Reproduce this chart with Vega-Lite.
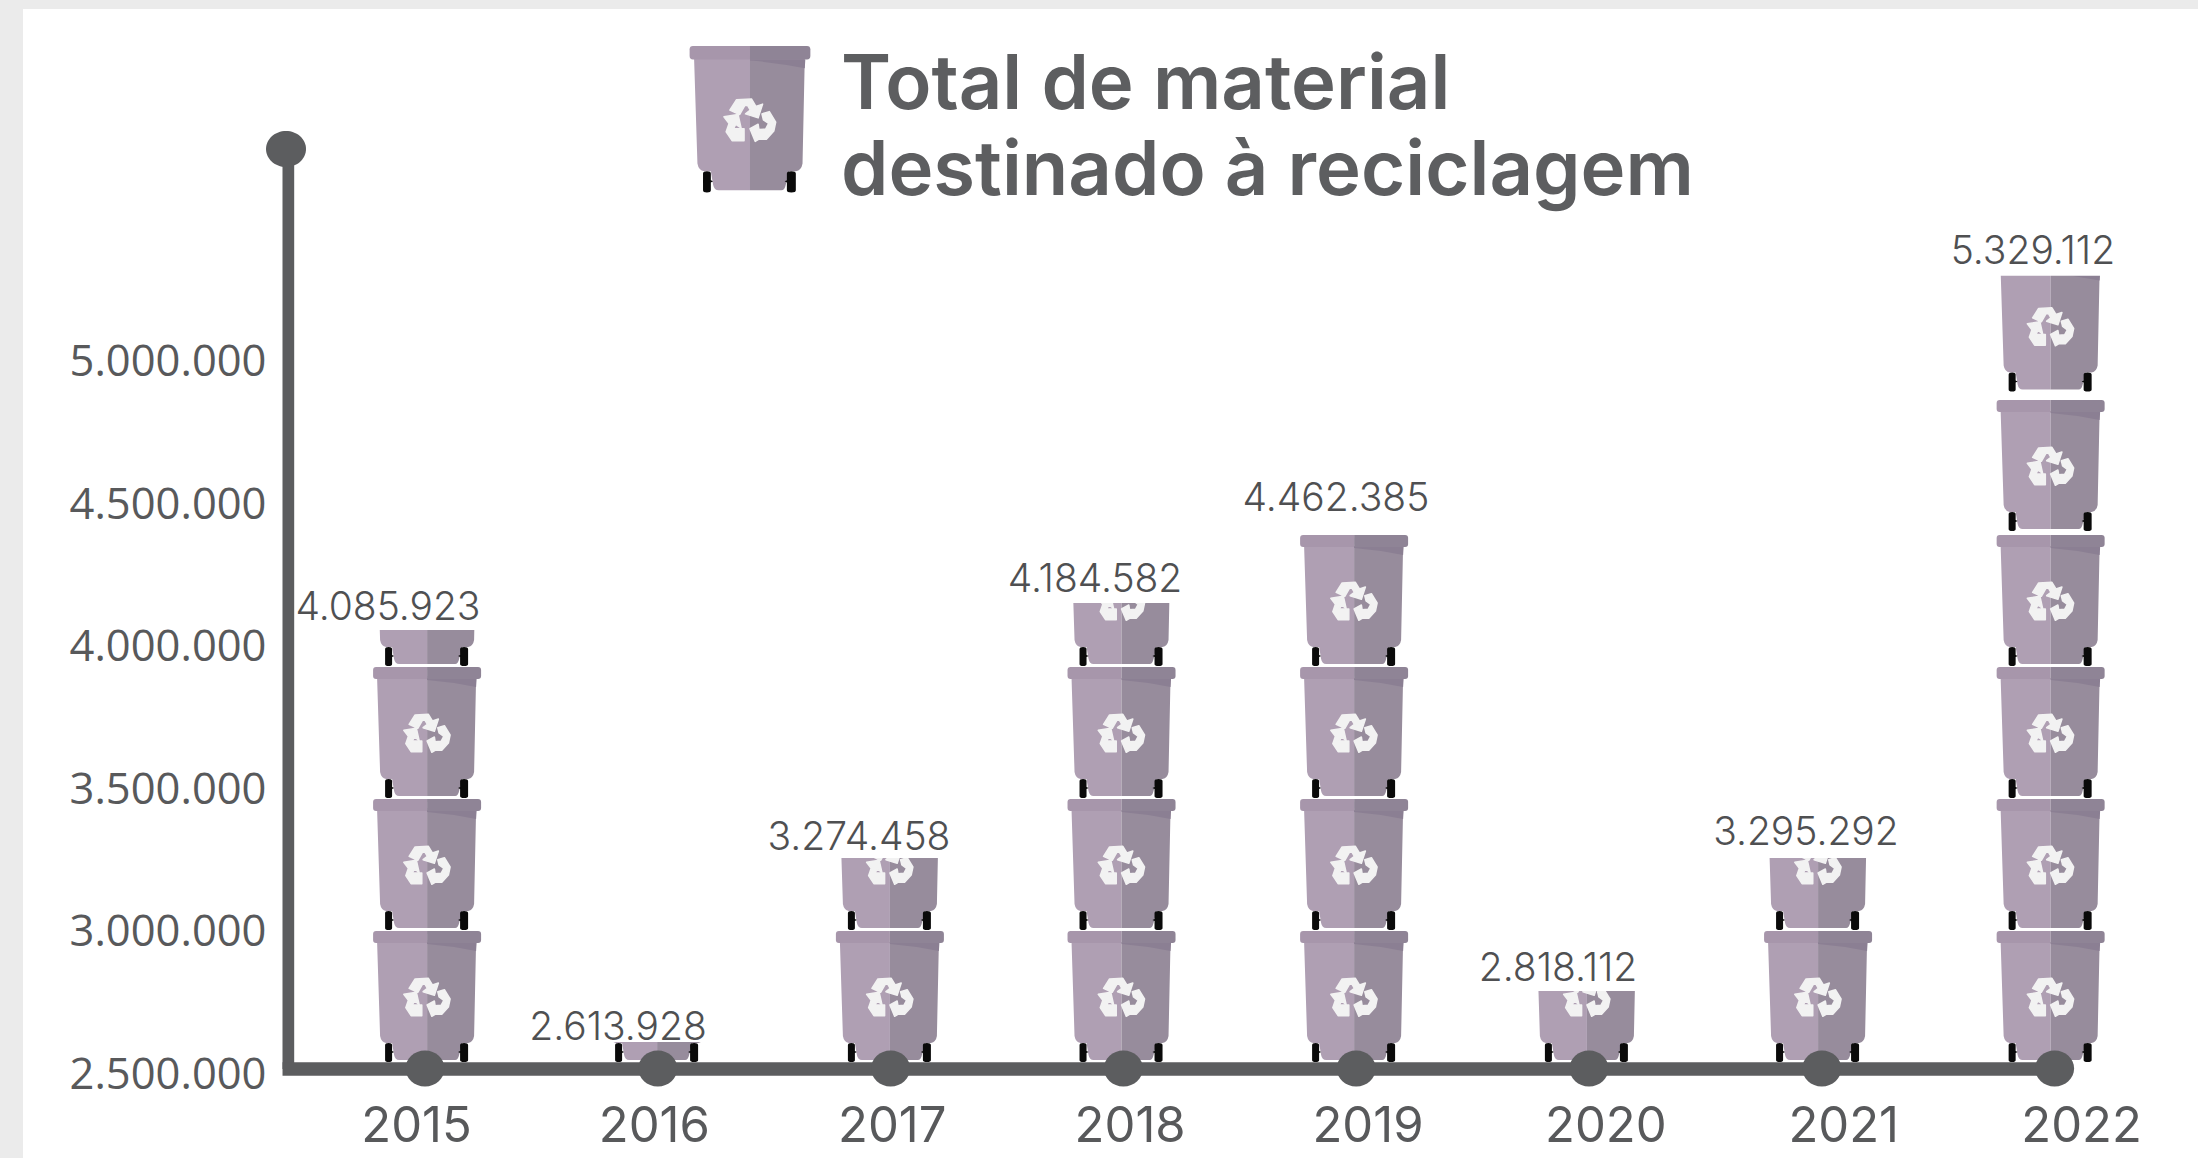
{
"$schema":"https://vega.github.io/schema/vega-lite/v6.json",
"width":2175,"height":1149,
"autosize":{"type":"none"},
"padding":{"left":23,"top":9,"right":0,"bottom":0},
"background":"#ebebeb",
"title":{"text":["Total de material","destinado à reciclagem"],"anchor":"start","frame":"group","orient":"top","dx":818,"dy":160,"offset":-102,"baseline":"alphabetic","font":"Inter","fontSize":76,"fontWeight":600,"color":"#5d5e60","lineHeight":86,"limit":1300},
"config":{"view":{"fill":"#ffffff","stroke":null},"locale":{"number":{"decimal":",","thousands":".","grouping":[3],"currency":["",""]}}},
"datasets":{
"years":[
{"year":2015,"value":4085923,"labelPos":2014.841,"labelAt":4067751},
{"year":2016,"value":2613928,"labelPos":2015.829,"labelAt":2593047},
{"year":2017,"value":3274458,"labelPos":2016.864,"labelAt":3260175},
{"year":2018,"value":4184582,"labelPos":2017.878,"labelAt":4166064},
{"year":2019,"value":4462385,"labelPos":2018.913,"labelAt":4450472},
{"year":2020,"value":2818112,"labelPos":2019.867,"labelAt":2801963},
{"year":2021,"value":3295292,"labelPos":2020.932,"labelAt":3279486},
{"year":2022,"value":5329112,"labelPos":2021.907,"labelAt":5317738}],
"bins":[
{"pos":2015.009,"rim":2982790},{"pos":2015.009,"rim":3446268},{"pos":2015.009,"rim":3909747},{"pos":2015.009,"rim":4373225},
{"pos":2015.997,"rim":2982790},
{"pos":2016.997,"rim":2982790},{"pos":2016.997,"rim":3446268},
{"pos":2017.992,"rim":2982790},{"pos":2017.992,"rim":3446268},{"pos":2017.992,"rim":3909747},{"pos":2017.992,"rim":4373225},
{"pos":2018.991,"rim":2982790},{"pos":2018.991,"rim":3446268},{"pos":2018.991,"rim":3909747},{"pos":2018.991,"rim":4373225},
{"pos":2019.991,"rim":2982790},
{"pos":2020.984,"rim":2982790},{"pos":2020.984,"rim":3446268},
{"pos":2021.983,"rim":2982790},{"pos":2021.983,"rim":3446268},{"pos":2021.983,"rim":3909747},{"pos":2021.983,"rim":4373225},{"pos":2021.983,"rim":4847237},{"pos":2021.983,"rim":5337050}],
"cuts":[
{"pos":2015.009,"cut":4039661,"clear":4390000},
{"pos":2015.997,"cut":2593047,"clear":3000000},
{"pos":2016.997,"cut":3239108,"clear":3460000},
{"pos":2017.992,"cut":4134464,"clear":4390000},
{"pos":2019.991,"cut":2772118,"clear":3000000},
{"pos":2020.984,"cut":3239108,"clear":3460000},
{"pos":2021.983,"cut":5283679,"clear":5355000}],
"header":[{"pos":2016.396,"rim":6090202}],
"spine":[{"pos":2014.413,"from":5728581,"to":2498244}],
"floor":[{"from":2014.388,"to":2022,"val":2498244}],
"cap":[{"pos":2014.403,"val":5728581}]
},
"layer":[
{"data":{"name":"bins"},
"mark":{"type":"point","filled":true,"opacity":1,"strokeWidth":0,"size":4,"fill":"#af9fb3","shape":"M-50,11 L0,11 L0,129 L-28,129 Q-32,129 -33,124 L-35,112 L-41,112 Q-46,111 -47,105 Z"},
"encoding":{
"x":{"field":"pos","type":"quantitative","scale":{"domain":[2013.2732,2022.616],"nice":false,"zero":false},
"axis":{"title":null,"values":[2015,2016,2017,2018,2019,2020,2021,2022],"format":"d","domain":false,"ticks":false,"grid":false,"offset":-17,"labelPadding":0,"labelBaseline":"alphabetic","labelFont":"Inter","labelFontSize":49,"labelColor":"#58595b","labelFlush":false,"labelOverlap":false,"labelBound":false,"labelOffset":{"expr":"(datum.value-2015)*5.07-9"}}},
"y":{"field":"rim","type":"quantitative","scale":{"domain":[2185748,6220116],"nice":false,"zero":false},
"axis":{"title":null,"values":[2500000,3000000,3500000,4000000,4500000,5000000],"format":",d","domain":false,"ticks":false,"grid":false,"offset":-243,"labelPadding":0,"labelLimit":400,"labelAlign":"right","labelBaseline":"middle","labelFont":"Open Sans","labelFontSize":43.5,"labelColor":"#58595b","labelOffset":6.5,"labelOverlap":false,"labelFlush":false,"labelBound":false}}
}},
{"data":{"name":"bins"},"mark":{"type":"point","filled":true,"opacity":1,"strokeWidth":0,"size":4,"fill":"#978c9c","shape":"M0,11 L49,11 L47,105 Q46,111 41,112 L35,112 L32,124 Q31,129 28,129 L0,129 Z"},
"encoding":{"x":{"field":"pos","type":"quantitative"},"y":{"field":"rim","type":"quantitative"}}},
{"data":{"name":"bins"},"mark":{"type":"point","filled":true,"opacity":1,"strokeWidth":0,"size":4,"fill":"#8b7f93","shape":"M0,12 L49.5,12 L49,20 Q25,15 0,13 Z"},
"encoding":{"x":{"field":"pos","type":"quantitative"},"y":{"field":"rim","type":"quantitative"}}},
{"data":{"name":"bins"},"mark":{"type":"point","filled":true,"opacity":1,"strokeWidth":0,"size":4,"fill":"#a796ab","shape":"M-54,3 Q-54,0 -51,0 L0,0 L0,12 L-51,12 Q-54,12 -54,9 Z"},
"encoding":{"x":{"field":"pos","type":"quantitative"},"y":{"field":"rim","type":"quantitative"}}},
{"data":{"name":"bins"},"mark":{"type":"point","filled":true,"opacity":1,"strokeWidth":0,"size":4,"fill":"#8f8496","shape":"M0,0 L51,0 Q54,0 54,3 L54,9 Q54,12 51,12 L0,12 Z"},
"encoding":{"x":{"field":"pos","type":"quantitative"},"y":{"field":"rim","type":"quantitative"}}},
{"data":{"name":"bins"},"mark":{"type":"point","filled":true,"opacity":1,"strokeWidth":0,"size":4,"fill":"#0a0a0a","shape":"M-42,114 Q-42,112 -38.5,112 Q-35,112 -35,114 L-35,120 L-33,121 L-35,122 L-35,129 Q-35,131 -38.5,131 Q-42,131 -42,129 Z M33,114 Q33,112 37,112 Q41,112 41,114 L41,129 Q41,131 37,131 Q33,131 33,129 L33,122 L31,121 L33,120 Z"},
"encoding":{"x":{"field":"pos","type":"quantitative"},"y":{"field":"rim","type":"quantitative"}}},
{"data":{"name":"bins"},"mark":{"type":"point","filled":true,"opacity":1,"stroke":"#f2f2f2","strokeWidth":1.5,"strokeJoin":"round","size":4,"fill":"#f2f2f2","shape":"M-18,57.3 L-12,48 L1.3,47.3 L5.3,54 L11.3,52 L7.3,64.3 L-4,60.7 L0.3,57.3 L-2,53.3 L-4.7,53.3 L-9.3,61.3 Z M-23.3,63.3 L-10.7,61.3 L-8,73.3 L-12.7,70 L-14.7,74 L-5.3,74 L-5.3,84.7 L-16,84.7 L-21.3,76.7 L-18.7,69.3 Z M10.7,60.7 L17.3,58.7 L23,68 L21.3,76 L14.7,83.3 L8,83.3 L4.7,85.3 L0,74 L7.3,70 L8,74.7 L14,74.3 L16.7,69.3 L12,66 Z"},
"encoding":{"x":{"field":"pos","type":"quantitative"},"y":{"field":"rim","type":"quantitative"}}},
{"data":{"name":"header"},"mark":{"type":"point","filled":true,"opacity":1,"strokeWidth":0,"size":5,"fill":"#af9fb3","shape":"M-50,11 L0,11 L0,129 L-28,129 Q-32,129 -33,124 L-35,112 L-41,112 Q-46,111 -47,105 Z"},
"encoding":{"x":{"field":"pos","type":"quantitative"},"y":{"field":"rim","type":"quantitative"}}},
{"data":{"name":"header"},"mark":{"type":"point","filled":true,"opacity":1,"strokeWidth":0,"size":5,"fill":"#978c9c","shape":"M0,11 L49,11 L47,105 Q46,111 41,112 L35,112 L32,124 Q31,129 28,129 L0,129 Z"},
"encoding":{"x":{"field":"pos","type":"quantitative"},"y":{"field":"rim","type":"quantitative"}}},
{"data":{"name":"header"},"mark":{"type":"point","filled":true,"opacity":1,"strokeWidth":0,"size":5,"fill":"#8b7f93","shape":"M0,12 L49.5,12 L49,20 Q25,15 0,13 Z"},
"encoding":{"x":{"field":"pos","type":"quantitative"},"y":{"field":"rim","type":"quantitative"}}},
{"data":{"name":"header"},"mark":{"type":"point","filled":true,"opacity":1,"strokeWidth":0,"size":5,"fill":"#a796ab","shape":"M-54,3 Q-54,0 -51,0 L0,0 L0,12 L-51,12 Q-54,12 -54,9 Z"},
"encoding":{"x":{"field":"pos","type":"quantitative"},"y":{"field":"rim","type":"quantitative"}}},
{"data":{"name":"header"},"mark":{"type":"point","filled":true,"opacity":1,"strokeWidth":0,"size":5,"fill":"#8f8496","shape":"M0,0 L51,0 Q54,0 54,3 L54,9 Q54,12 51,12 L0,12 Z"},
"encoding":{"x":{"field":"pos","type":"quantitative"},"y":{"field":"rim","type":"quantitative"}}},
{"data":{"name":"header"},"mark":{"type":"point","filled":true,"opacity":1,"strokeWidth":0,"size":5,"fill":"#0a0a0a","shape":"M-42,114 Q-42,112 -38.5,112 Q-35,112 -35,114 L-35,120 L-33,121 L-35,122 L-35,129 Q-35,131 -38.5,131 Q-42,131 -42,129 Z M33,114 Q33,112 37,112 Q41,112 41,114 L41,129 Q41,131 37,131 Q33,131 33,129 L33,122 L31,121 L33,120 Z"},
"encoding":{"x":{"field":"pos","type":"quantitative"},"y":{"field":"rim","type":"quantitative"}}},
{"data":{"name":"header"},"mark":{"type":"point","filled":true,"opacity":1,"stroke":"#f2f2f2","strokeWidth":1.5,"strokeJoin":"round","size":5,"fill":"#f2f2f2","shape":"M-18,57.3 L-12,48 L1.3,47.3 L5.3,54 L11.3,52 L7.3,64.3 L-4,60.7 L0.3,57.3 L-2,53.3 L-4.7,53.3 L-9.3,61.3 Z M-23.3,63.3 L-10.7,61.3 L-8,73.3 L-12.7,70 L-14.7,74 L-5.3,74 L-5.3,84.7 L-16,84.7 L-21.3,76.7 L-18.7,69.3 Z M10.7,60.7 L17.3,58.7 L23,68 L21.3,76 L14.7,83.3 L8,83.3 L4.7,85.3 L0,74 L7.3,70 L8,74.7 L14,74.3 L16.7,69.3 L12,66 Z"},
"encoding":{"x":{"field":"pos","type":"quantitative"},"y":{"field":"rim","type":"quantitative"}}},
{"data":{"name":"cuts"},"mark":{"type":"rule","stroke":"#ffffff","strokeWidth":125,"strokeCap":"butt"},
"encoding":{"x":{"field":"pos","type":"quantitative"},"y":{"field":"cut","type":"quantitative"},"y2":{"field":"clear"}}},
{"data":{"name":"spine"},"mark":{"type":"rule","stroke":"#5c5d5f","strokeWidth":11.7,"strokeCap":"butt"},
"encoding":{"x":{"field":"pos","type":"quantitative"},"y":{"field":"from","type":"quantitative"},"y2":{"field":"to"}}},
{"data":{"name":"floor"},"mark":{"type":"rule","stroke":"#5c5d5f","strokeWidth":13.5,"strokeCap":"butt"},
"encoding":{"x":{"field":"from","type":"quantitative"},"x2":{"field":"to"},"y":{"field":"val","type":"quantitative"}}},
{"data":{"name":"cap"},"mark":{"type":"point","filled":true,"opacity":1,"strokeWidth":0,"size":4,"fill":"#5c5d5f","shape":"M-20,0 A20,18 0 1 1 20,0 A20,18 0 1 1 -20,0 Z"},
"encoding":{"x":{"field":"pos","type":"quantitative"},"y":{"field":"val","type":"quantitative"}}},
{"data":{"name":"years"},"mark":{"type":"point","filled":true,"opacity":1,"strokeWidth":0,"size":4,"fill":"#5c5d5f","shape":"M-19.5,0 A19.5,18 0 1 1 19.5,0 A19.5,18 0 1 1 -19.5,0 Z"},
"encoding":{"x":{"field":"year","type":"quantitative"},"y":{"datum":2500000,"type":"quantitative"}}},
{"data":{"name":"years"},"mark":{"type":"text","font":"Inter","fontWeight":300,"fontSize":39,"color":"#4f5052","baseline":"alphabetic","align":"center","dy":-2},
"encoding":{"x":{"field":"labelPos","type":"quantitative"},"y":{"field":"labelAt","type":"quantitative"},"text":{"field":"value","type":"quantitative","format":",d"}}}
]
}
